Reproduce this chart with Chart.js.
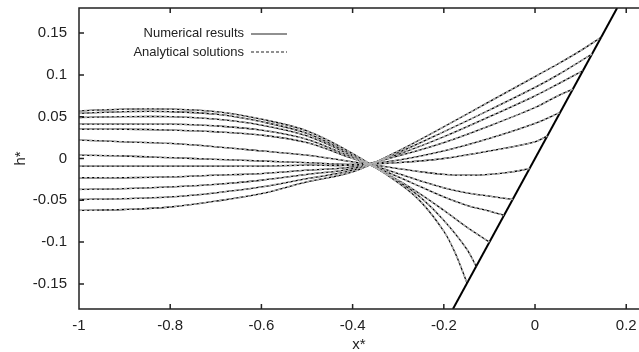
<!DOCTYPE html>
<html>
<head>
<meta charset="utf-8">
<script src="https://cdn.jsdelivr.net/npm/chart.js@4.4.1/dist/chart.umd.min.js"></script>
<style>
  body { margin: 0; background: #fff; }
</style>
</head>
<body>
<canvas id="chart" width="639" height="352"></canvas>
<script>
// tick labels
var xTicks = [-1, -0.8, -0.6, -0.4, -0.2, 0, 0.2];
var yTicks = [-0.15, -0.1, -0.05, 0, 0.05, 0.1, 0.15];

// curves, top-left start to bottom-left start
var c1x = [-1, -0.9, -0.8, -0.7, -0.6, -0.5, -0.4, -0.3, -0.25, -0.2, -0.175, -0.149];
var c1h = [0.057, 0.059, 0.059, 0.056, 0.047, 0.033, 0.006, -0.029, -0.052, -0.087, -0.113, -0.149];
var c2x = [-1, -0.9, -0.8, -0.7, -0.6, -0.5, -0.4, -0.3, -0.25, -0.2, -0.15, -0.129];
var c2h = [0.054, 0.056, 0.056, 0.053, 0.044, 0.030, 0.004, -0.027, -0.047, -0.074, -0.108, -0.129];
var c3x = [-1, -0.9, -0.8, -0.7, -0.6, -0.5, -0.4, -0.3, -0.25, -0.2, -0.15, -0.1];
var c3h = [0.049, 0.050, 0.050, 0.047, 0.040, 0.027, 0.003, -0.026, -0.043, -0.062, -0.082, -0.100];
var c4x = [-1, -0.9, -0.8, -0.7, -0.6, -0.5, -0.4, -0.3, -0.25, -0.2, -0.15, -0.1, -0.068];
var c4h = [0.041, 0.041, 0.041, 0.039, 0.034, 0.023, 0.001, -0.022, -0.034, -0.046, -0.056, -0.063, -0.068];
var c5x = [-1, -0.9, -0.8, -0.7, -0.6, -0.5, -0.4, -0.3, -0.25, -0.2, -0.15, -0.1, -0.049];
var c5h = [0.035, 0.035, 0.034, 0.032, 0.028, 0.019, 0.000, -0.018, -0.027, -0.035, -0.041, -0.045, -0.049];
var c6x = [-1, -0.9, -0.8, -0.7, -0.6, -0.5, -0.4, -0.3, -0.25, -0.2, -0.15, -0.1, -0.05, -0.012];
var c6h = [0.022, 0.020, 0.018, 0.014, 0.009, 0.004, -0.004, -0.012, -0.016, -0.019, -0.020, -0.019, -0.016, -0.012];
var c7x = [-1, -0.9, -0.8, -0.7, -0.6, -0.5, -0.4, -0.3, -0.2, -0.1, 0, 0.027];
var c7h = [0.004, 0.003, 0.001, -0.001, -0.003, -0.005, -0.007, -0.005, 0.000, 0.009, 0.020, 0.027];
var c8x = [-1, -0.9, -0.8, -0.7, -0.6, -0.5, -0.4, -0.3, -0.2, -0.1, 0, 0.055];
var c8h = [-0.009, -0.009, -0.009, -0.009, -0.009, -0.008, -0.008, -0.002, 0.009, 0.024, 0.042, 0.055];
var c9x = [-1, -0.9, -0.8, -0.7, -0.6, -0.5, -0.4, -0.3, -0.2, -0.1, 0, 0.05, 0.083];
var c9h = [-0.023, -0.023, -0.022, -0.020, -0.018, -0.014, -0.010, 0.003, 0.019, 0.039, 0.061, 0.075, 0.083];
var c10x = [-1, -0.9, -0.8, -0.7, -0.6, -0.5, -0.4, -0.3, -0.2, -0.1, 0, 0.05, 0.105];
var c10h = [-0.037, -0.036, -0.034, -0.031, -0.026, -0.019, -0.012, 0.005, 0.026, 0.050, 0.075, 0.089, 0.105];
var c11x = [-1, -0.9, -0.8, -0.7, -0.6, -0.5, -0.4, -0.3, -0.2, -0.1, 0, 0.05, 0.125];
var c11h = [-0.049, -0.048, -0.046, -0.041, -0.034, -0.024, -0.014, 0.007, 0.032, 0.058, 0.085, 0.100, 0.125];
var c12x = [-1, -0.9, -0.8, -0.7, -0.6, -0.5, -0.4, -0.3, -0.2, -0.1, 0, 0.05, 0.1, 0.145];
var c12h = [-0.062, -0.061, -0.058, -0.051, -0.042, -0.028, -0.016, 0.009, 0.038, 0.068, 0.098, 0.113, 0.129, 0.145];

// the straight boundary h* = x*
var wallX = [-0.18, 0.18];
var wallH = [-0.18, 0.18];

var curves = [
  [c1x, c1h], [c2x, c2h], [c3x, c3h], [c4x, c4h], [c5x, c5h], [c6x, c6h],
  [c7x, c7h], [c8x, c8h], [c9x, c9h], [c10x, c10h], [c11x, c11h], [c12x, c12h]
];

function toPoints(xs, hs) {
  return xs.map(function (x, i) { return { x: x, y: hs[i] }; });
}

var datasets = [];
// analytical (dashed) under the numerical ones
curves.forEach(function (c) {
  datasets.push({
    data: toPoints(c[0], c[1]),
    borderColor: '#b0b0b0',
    borderWidth: 1.6,
    borderDash: [3, 2],
    tension: 0.35,
    pointRadius: 0,
    fill: false
  });
});
curves.forEach(function (c) {
  datasets.push({
    data: toPoints(c[0], c[1]),
    borderColor: '#000',
    borderWidth: 1.3,
    tension: 0.35,
    pointRadius: 0,
    fill: false
  });
});
datasets.push({
  data: toPoints(wallX, wallH),
  borderColor: '#000',
  borderWidth: 2,
  pointRadius: 0,
  fill: false
});

// frame with inward ticks, gnuplot style
var framePlugin = {
  id: 'frame',
  afterDraw: function (chart) {
    var ctx = chart.ctx, a = chart.chartArea;
    var xs = chart.scales.x, ys = chart.scales.y;
    ctx.save();
    ctx.strokeStyle = '#222';
    ctx.lineWidth = 1.5;
    ctx.beginPath();
    ctx.moveTo(a.right + 2, a.top);
    ctx.lineTo(a.left, a.top);
    ctx.lineTo(a.left, a.bottom);
    ctx.lineTo(a.right + 2, a.bottom);
    xTicks.forEach(function (v) {
      var px = xs.getPixelForValue(v);
      ctx.moveTo(px, a.bottom);
      ctx.lineTo(px, a.bottom - 5);
      ctx.moveTo(px, a.top);
      ctx.lineTo(px, a.top + 5);
    });
    yTicks.forEach(function (v) {
      var py = ys.getPixelForValue(v);
      ctx.moveTo(a.left, py);
      ctx.lineTo(a.left + 5, py);
    });
    ctx.stroke();

    // legend
    ctx.font = '13px "Liberation Sans", Arial, sans-serif';
    ctx.fillStyle = '#222';
    ctx.textAlign = 'right';
    ctx.textBaseline = 'middle';
    ctx.fillText('Numerical results', 244, 33);
    ctx.fillText('Analytical solutions', 244, 52);
    ctx.lineWidth = 1.2;
    ctx.beginPath();
    ctx.moveTo(251, 34);
    ctx.lineTo(287, 34);
    ctx.stroke();
    ctx.setLineDash([3, 2]);
    ctx.beginPath();
    ctx.moveTo(251, 52);
    ctx.lineTo(287, 52);
    ctx.stroke();
    ctx.restore();
  }
};

new Chart(document.getElementById('chart'), {
  type: 'line',
  data: { datasets: datasets },
  options: {
    responsive: false,
    animation: false,
    layout: { padding: { top: 8, left: 0, right: 0, bottom: 0 } },
    plugins: { legend: { display: false }, tooltip: { enabled: false } },
    scales: {
      x: {
        type: 'linear',
        min: -1,
        max: 0.228,
        afterBuildTicks: function (s) { s.ticks = xTicks.map(function (v) { return { value: v }; }); },
        afterFit: function (s) { s.height = 43; s.paddingLeft = 0; s.paddingRight = 0; },
        grid: { display: false },
        border: { display: false },
        ticks: {
          padding: 0,
          color: '#222',
          font: { family: '"Liberation Sans", Arial, sans-serif', size: 15 },
          callback: function (v) { return String(v); }
        },
        title: {
          display: true,
          text: 'x*',
          color: '#222',
          padding: { top: 0, bottom: -2 },
          font: { family: '"Liberation Sans", Arial, sans-serif', size: 15 }
        }
      },
      y: {
        type: 'linear',
        min: -0.18,
        max: 0.18,
        afterBuildTicks: function (s) { s.ticks = yTicks.map(function (v) { return { value: v }; }); },
        afterFit: function (s) { s.width = 79; s.paddingTop = 0; s.paddingBottom = 0; },
        grid: { display: false },
        border: { display: false },
        ticks: {
          padding: 4,
          color: '#222',
          font: { family: '"Liberation Sans", Arial, sans-serif', size: 15 },
          callback: function (v) { return String(v); }
        },
        title: {
          display: true,
          text: 'h*',
          color: '#222',
          padding: { top: 12, bottom: 0 },
          font: { family: '"Liberation Sans", Arial, sans-serif', size: 15 }
        }
      }
    }
  },
  plugins: [framePlugin]
});
</script>
</body>
</html>
